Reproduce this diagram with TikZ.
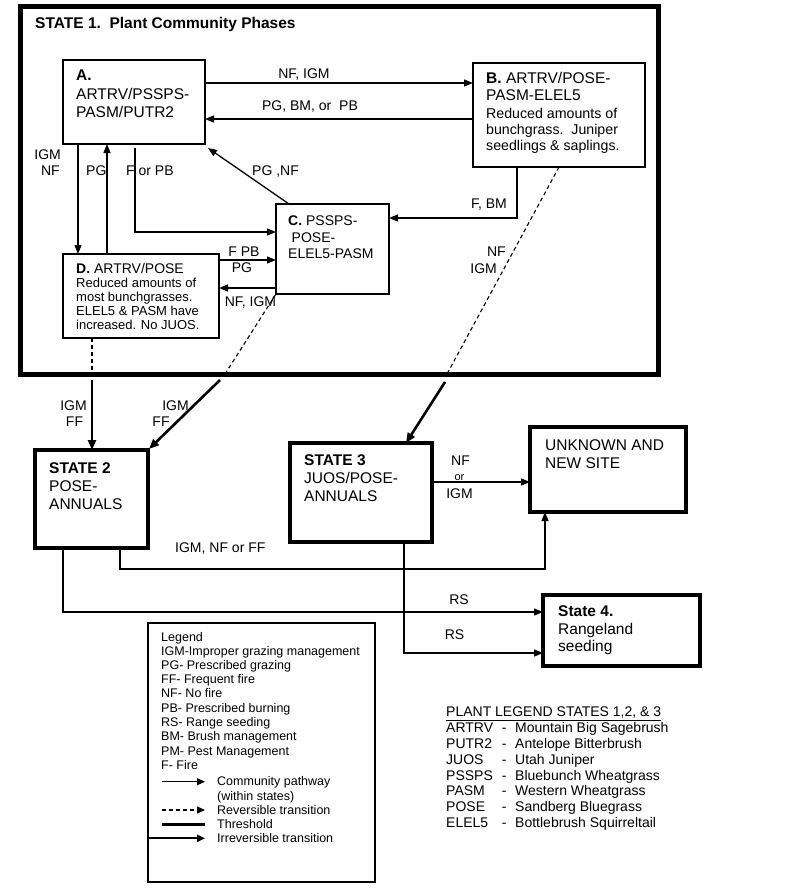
\documentclass[tikz,border=0pt]{standalone}
\usepackage{fontspec}
\setmainfont{Liberation Sans}
\usetikzlibrary{arrows.meta}
\tikzset{
  thinbox/.style={draw, line width=1.2, inner sep=0, outer sep=0, anchor=north west},
  statebox/.style={draw, line width=4.5, inner sep=0, outer sep=0, anchor=north west},
  txt/.style={inner sep=0, anchor=base west, font=\fontsize{15.5}{17}\selectfont},
  txtb/.style={txt, font=\fontsize{15.5}{17}\selectfont\bfseries},
  small/.style={inner sep=0, anchor=base west, font=\fontsize{14.2}{16}\selectfont},
  smallD/.style={inner sep=0, anchor=base west, font=\fontsize{13}{15}\selectfont},
  lab/.style={inner sep=0, anchor=base west, font=\fontsize{14}{16}\selectfont},
  leg/.style={inner sep=0, anchor=base west, font=\fontsize{12.5}{14}\selectfont},
  pl/.style={inner sep=0, anchor=base west, font=\fontsize{14}{16}\selectfont},
  arr/.style={line width=1.3, -{Triangle[length=9pt,width=7pt]}},
  dashln/.style={line width=1.1, dash pattern=on 4pt off 3pt},
  irr/.style={line width=2.6, -{Triangle[length=10pt,width=8pt]}},
}
\begin{document}
\begin{tikzpicture}[x=1pt,y=-1pt]
\useasboundingbox (0,0) rectangle (800,895);

% ---------- State 1 frame ----------
\node[draw, line width=5, inner sep=0, outer sep=0, anchor=north west,
      minimum width=638, minimum height=368] (S1) at (20,6) {};
\node[txtb] (t1) at (35,28) {STATE 1.\ \ Plant Community Phases};

% ---------- phase boxes ----------
\node[thinbox, minimum width=142, minimum height=84] (A) at (63,60) {};
\node[txtb] (ta1) at (76,80) {A.};
\node[txt] (ta2) at (76,99) {ARTRV/PSSPS-};
\node[txt] (ta3) at (76,117) {PASM/PUTR2};

\node[thinbox, minimum width=172, minimum height=104] (B) at (473,63) {};
\node[txt] (tb1) at (486,83) {\textbf{B.} ARTRV/POSE-};
\node[txt] (tb2) at (486,100.5) {PASM-ELEL5};
\node[small] (tb3) at (486,118) {Reduced amounts of};
\node[small] (tb4) at (486,134) {bunchgrass.\ \ Juniper};
\node[small] (tb5) at (486,150) {seedlings \& saplings.};

\node[thinbox, minimum width=113, minimum height=90] (C) at (276,204) {};
\node[lab] (tc1) at (288,225) {\textbf{C.} PSSPS-};
\node[lab] (tc2) at (291.5,242.5) {POSE-};
\node[lab] (tc3) at (288,258.5) {ELEL5-PASM};

\node[thinbox, minimum width=156, minimum height=84] (D) at (63,254) {};
\node[lab] (td1) at (76,273) {\textbf{D.} ARTRV/POSE};
\node[smallD] (td2) at (76,287) {Reduced amounts of};
\node[smallD] (td3) at (76,301) {most bunchgrasses.};
\node[smallD] (td4) at (76,315) {ELEL5 \& PASM have};
\node[smallD] (td5) at (76,329) {increased. No JUOS.};

% ---------- state boxes ----------
\node[statebox, minimum width=113, minimum height=98] (S2) at (35,450) {};
\node[txtb] (ts21) at (49,473) {STATE 2};
\node[txt] (ts22) at (49,491.5) {POSE-};
\node[txt] (ts23) at (49,509.5) {ANNUALS};

\node[statebox, minimum width=142, minimum height=99] (S3) at (290,443) {};
\node[txtb] (ts31) at (304,465) {STATE 3};
\node[txt] (ts32) at (304,483) {JUOS/POSE-};
\node[txt] (ts33) at (304,501) {ANNUALS};

\node[statebox, minimum width=156, minimum height=85] (U) at (530,427) {};
\node[txt] (tu1) at (545,450) {UNKNOWN AND};
\node[txt] (tu2) at (545,468) {NEW SITE};

\node[draw, line width=3.2, inner sep=0, outer sep=0, anchor=north west,
      minimum width=157, minimum height=71] (S4) at (543,595) {};
\node[txtb] (ts41) at (558,616.5) {State 4.};
\node[txt] (ts42) at (558,634) {Rangeland};
\node[txt] (ts43) at (558,651) {seeding};

% ---------- connectors inside state 1 ----------
\draw[arr] (A.east |- 0,83) -- (B.west |- 0,83);
\node[lab, anchor=base] (l1) at (304,78) {NF, IGM};
\draw[arr] (B.west |- 0,119) -- (A.east |- 0,119);
\node[lab, anchor=base] (l2) at (310,110) {PG, BM, or\ \ PB};

\draw[arr] (A.south -| 78,0) -- (D.north -| 78,0);
\node[lab, anchor=base east] (l3) at (61,159) {IGM};
\node[lab, anchor=base east] (l4) at (60,175) {NF};
\draw[arr] (D.north -| 107,0) -- (A.south -| 107,0);
\node[lab] (l5) at (86,175) {PG};

\coordinate (a1) at (135,148);
\draw[arr] (a1) |- (C.west |- 0,232);
\node[lab] (l6) at (126,175) {F\ or PB};

\draw[arr] (C.north -| 289,0) -- ([xshift=3pt,yshift=-4pt]A.south east);
\node[lab] (l7) at (252,175) {PG ,NF};

\draw[arr] (B.south -| 517,0) |- (C.east |- 0,218);
\node[lab, anchor=base east] (l8) at (507,208) {F, BM};

\draw[arr] (D.east |- 0,260) -- (C.west |- 0,260);
\node[lab, anchor=base] (l9) at (244,256) {F PB};
\node[lab, anchor=base] (l10) at (242,272.5) {PG};
\draw[arr] (C.west |- 0,288) -- (D.east |- 0,288);
\node[lab, anchor=base] (l11) at (250.5,306) {NF, IGM};

% ---------- transitions out of state 1 ----------
\draw[dashln] (D.south -| 92,0) -- (S1.south -| 92,0);
\coordinate (d2) at (92,380);
\draw[irr] (d2) -- (S2.north -| 92,0);
\node[lab, anchor=base] (l12) at (73.5,410) {IGM};
\node[lab, anchor=base] (l13) at (74.5,426) {FF};

\draw[dashln] (C.south west) -- (S1.south -| 225,0);
\coordinate (c2) at (220,380);
\draw[irr] (c2) -- ([xshift=1pt,yshift=1pt]S2.north east);
\node[lab, anchor=base] (l14) at (175.5,410) {IGM};
\node[lab, anchor=base] (l15) at (161,426) {FF};

\draw[dashln] (B.south -| 559,0) -- (S1.south -| 447,0);
\coordinate (b2) at (445,382);
\draw[irr] (b2) -- (S3.north -| 406,0);
\node[lab, anchor=base east] (l16) at (506,256.5) {NF};
\node[lab, anchor=base east] (l17) at (497,273) {IGM};

% ---------- lower transitions ----------
\draw[arr] (S3.east |- 0,482) -- (U.west |- 0,482);
\node[lab, anchor=base] (l18) at (460.5,465.5) {NF};
\node[inner sep=0, anchor=base, font=\fontsize{11}{12}\selectfont] (l19) at (459.5,480.5) {or};
\node[lab, anchor=base] (l20) at (459.5,498) {IGM};

\draw[arr] (S2.south -| 120,0) -- (120,569) -| (U.south -| 545,0);
\node[lab] (l21) at (175,552.5) {IGM, NF or FF};

\draw[arr] (S2.south -| 63,0) |- (S4.west |- 0,612);
\node[lab, anchor=base] (l22) at (459,604) {RS};
\draw[arr] (S3.south -| 404,0) |- (S4.west |- 0,653);
\node[lab, anchor=base] (l23) at (454.5,639) {RS};

% ---------- legend ----------
\node[draw, line width=1.2, inner sep=0, outer sep=0, anchor=north west,
      minimum width=227, minimum height=259] (L) at (148,623) {};
\node[leg] (g1) at (161,641.7) {Legend};
\node[leg] (g2) at (161,655) {IGM-Improper grazing management};
\node[leg] (g3) at (161,669.3) {PG- Prescribed grazing};
\node[leg] (g4) at (161,683.6) {FF- Frequent fire};
\node[leg] (g5) at (161,697.9) {NF- No fire};
\node[leg] (g6) at (161,712.2) {PB- Prescribed burning};
\node[leg] (g7) at (161,726.5) {RS- Range seeding};
\node[leg] (g8) at (161,740.8) {BM- Brush management};
\node[leg] (g9) at (161,755.1) {PM- Pest Management};
\node[leg] (g10) at (161,769.8) {F- Fire};
\node[leg] (g11) at (217,785.7) {Community pathway};
\node[leg] (g12) at (217,800) {(within states)};
\node[leg] (g13) at (217,814.3) {Reversible transition};
\node[leg] (g14) at (217,828.3) {Threshold};
\node[leg] (g15) at (217,842.7) {Irreversible transition};
\coordinate (k1a) at (162,781.7); \coordinate (k1b) at (205,781.7);
\draw[line width=1.1, -{Triangle[length=8pt,width=7pt]}] (k1a) -- (k1b);
\coordinate (k2a) at (162,810); \coordinate (k2b) at (205,810);
\draw[line width=1.1, dash pattern=on 4pt off 3pt, -{Triangle[length=8pt,width=7pt]}] (k2a) -- (k2b);
\coordinate (k3a) at (162,824.3); \coordinate (k3b) at (205,824.3);
\draw[line width=3.5] (k3a) -- (k3b);
\coordinate (k4b) at (205,838.3);
\draw[line width=2, -{Triangle[length=8pt,width=7pt]}] (L.west |- k4b) -- (k4b);

% ---------- plant legend ----------
\node[pl] (p0) at (446,716.7) {\underline{PLANT LEGEND STATES 1,2, \& 3}};
\node[pl] (p1a) at (446,732.7) {ARTRV};   \node[pl] (p1b) at (501.7,732.7) {-};   \node[pl] (p1c) at (515,732.7) {Mountain Big Sagebrush};
\node[pl] (p2a) at (446,748.5) {PUTR2};   \node[pl] (p2b) at (501.7,748.5) {-};   \node[pl] (p2c) at (515,748.5) {Antelope Bitterbrush};
\node[pl] (p3a) at (446,764.3) {JUOS};    \node[pl] (p3b) at (501.7,764.3) {-};   \node[pl] (p3c) at (515,764.3) {Utah Juniper};
\node[pl] (p4a) at (446,780.1) {PSSPS};   \node[pl] (p4b) at (501.7,780.1) {-};   \node[pl] (p4c) at (515,780.1) {Bluebunch Wheatgrass};
\node[pl] (p5a) at (446,795.9) {PASM};    \node[pl] (p5b) at (501.7,795.9) {-};   \node[pl] (p5c) at (515,795.9) {Western Wheatgrass};
\node[pl] (p6a) at (446,811.7) {POSE};    \node[pl] (p6b) at (501.7,811.7) {-};   \node[pl] (p6c) at (515,811.7) {Sandberg Bluegrass};
\node[pl] (p7a) at (446,827.5) {ELEL5};   \node[pl] (p7b) at (501.7,827.5) {-};   \node[pl] (p7c) at (515,827.5) {Bottlebrush Squirreltail};
\end{tikzpicture}
\end{document}
